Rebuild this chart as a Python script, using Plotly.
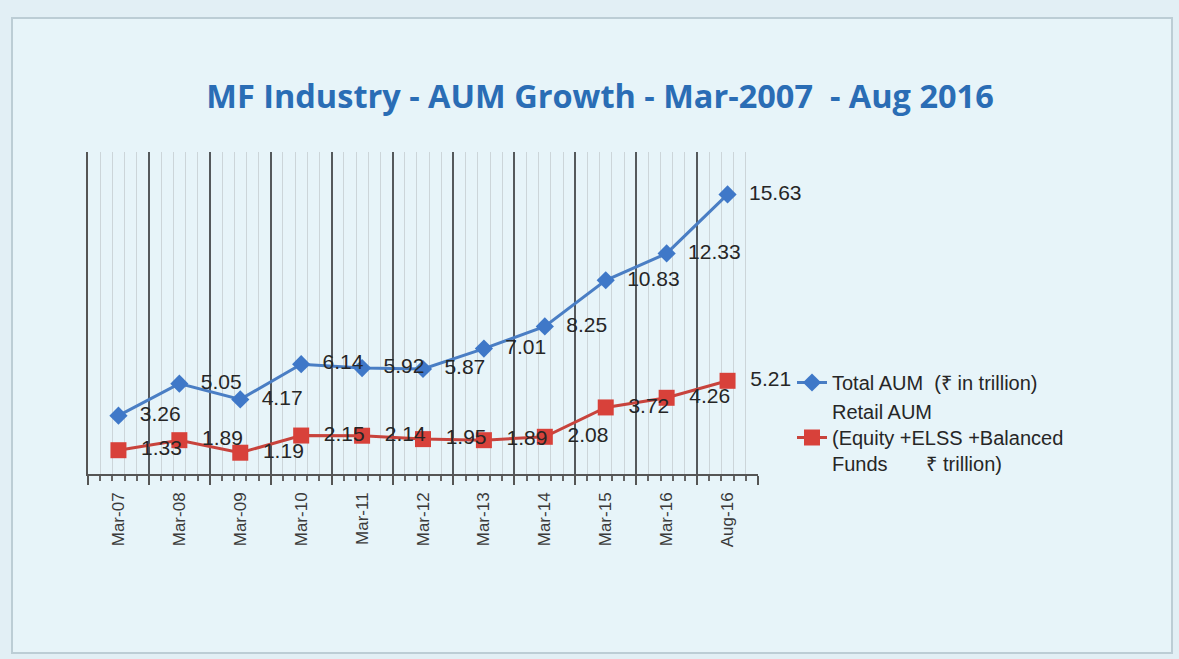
import plotly.graph_objects as go

categories = ["Mar-07", "Mar-08", "Mar-09", "Mar-10", "Mar-11", "Mar-12",
              "Mar-13", "Mar-14", "Mar-15", "Mar-16", "Aug-16"]
total_aum = [3.26, 5.05, 4.17, 6.14, 5.92, 5.87, 7.01, 8.25, 10.83, 12.33, 15.63]
retail_aum = [1.33, 1.89, 1.19, 2.15, 2.14, 1.95, 1.89, 2.08, 3.72, 4.26, 5.21]

total_name = "Total AUM\u00a0\u00a0(₹ in trillion)"
retail_name = ("Retail AUM<br>(Equity +ELSS +Balanced<br>"
               "Funds\u00a0\u00a0\u00a0\u00a0\u00a0\u00a0\u00a0₹ trillion)")
title_text = "MF Industry - AUM Growth - Mar-2007\u00a0\u00a0- Aug 2016"

W, H = 1179, 659
L, R, T, B = 88, 758, 152, 474   # plot area in pixels

def px(xp):
    return (xp - L) / (R - L)

def py(yp):
    return (B - yp) / (B - T)

xi = list(range(len(categories)))
label_font = dict(family="Liberation Sans, Arial", size=21, color="#262626")

fig = go.Figure()
fig.add_trace(go.Scatter(
    x=xi, y=total_aum, name=total_name, mode="lines+markers+text",
    text=[f"\u00a0\u00a0{v:.2f}" for v in total_aum], textposition="middle right",
    textfont=label_font, cliponaxis=False,
    line=dict(color="#4a7ec4", width=3),
    marker=dict(symbol="diamond", size=14, color="#3f78c8"),
))
fig.add_trace(go.Scatter(
    x=xi, y=retail_aum, name=retail_name, mode="lines+markers+text",
    text=[f"\u00a0\u00a0{v:.2f}" for v in retail_aum], textposition="middle right",
    textfont=label_font, cliponaxis=False,
    line=dict(color="#c8433c", width=3),
    marker=dict(symbol="square", size=16, color="#d8413a"),
))
# carrier trace so the category-label axis is drawn
fig.add_trace(go.Scatter(
    x=xi, y=[None] * len(xi), xaxis="x2", yaxis="y", mode="markers",
    showlegend=False, hoverinfo="skip",
))

fig.update_layout(
    width=W, height=H,
    margin=dict(l=L, r=W - R, t=T, b=H - B, pad=0),
    paper_bgcolor="#e2eff5",
    plot_bgcolor="#edf6f9",
    title=dict(text=title_text, xref="container", yref="container",
               x=600 / W, y=1 - 97 / H, xanchor="center", yanchor="middle",
               font=dict(family="Open Sans", size=32.5, color="#2a6db5",
                         weight="bold")),
    showlegend=True,
    legend=dict(xref="container", yref="container",
                x=792 / W, y=1 - 363 / H, xanchor="left", yanchor="top",
                bgcolor="rgba(0,0,0,0)",
                font=dict(family="Liberation Sans, Arial", size=20,
                          color="#262626"),
                itemwidth=30, tracegroupgap=0),
    xaxis=dict(range=[-0.5, len(categories) - 0.5], tick0=-0.5, dtick=1,
               showticklabels=False, ticks="outside", ticklen=9,
               tickcolor="#555555", tickwidth=1.5,
               showgrid=True, gridcolor="#55595c", gridwidth=1.5,
               showline=True, linecolor="#555555", linewidth=1.5,
               zeroline=False,
               minor=dict(dtick=0.2, tick0=-0.5, ticks="outside", ticklen=5,
                          tickcolor="#666666", showgrid=True,
                          gridcolor="#ccd5d9", gridwidth=1)),
    xaxis2=dict(overlaying="x", anchor="y", side="bottom",
                range=[-0.5, len(categories) - 0.5],
                tickmode="array", tickvals=xi, ticktext=categories,
                tickangle=-90, ticks="", showgrid=False, showline=False,
                zeroline=False, ticklabelstandoff=14,
                tickfont=dict(family="Liberation Sans, Arial", size=17,
                              color="#3a3a3a")),
    yaxis=dict(range=[0, 18], showticklabels=False, showgrid=False,
               zeroline=False, showline=True, linecolor="#555555",
               linewidth=1.5, mirror=False, ticks=""),
    shapes=[dict(type="rect", xref="paper", yref="paper", layer="below",
                 x0=px(12), x1=px(1172), y0=py(653), y1=py(18),
                 fillcolor="#e7f4f9", line=dict(color="#bccdd5", width=2))],
)

fig.write_html("out.html",
               config={"displayModeBar": False},
               post_script="document.body.style.margin='0';"
                           "document.body.style.padding='0';"
                           "document.body.style.overflow='hidden';")
